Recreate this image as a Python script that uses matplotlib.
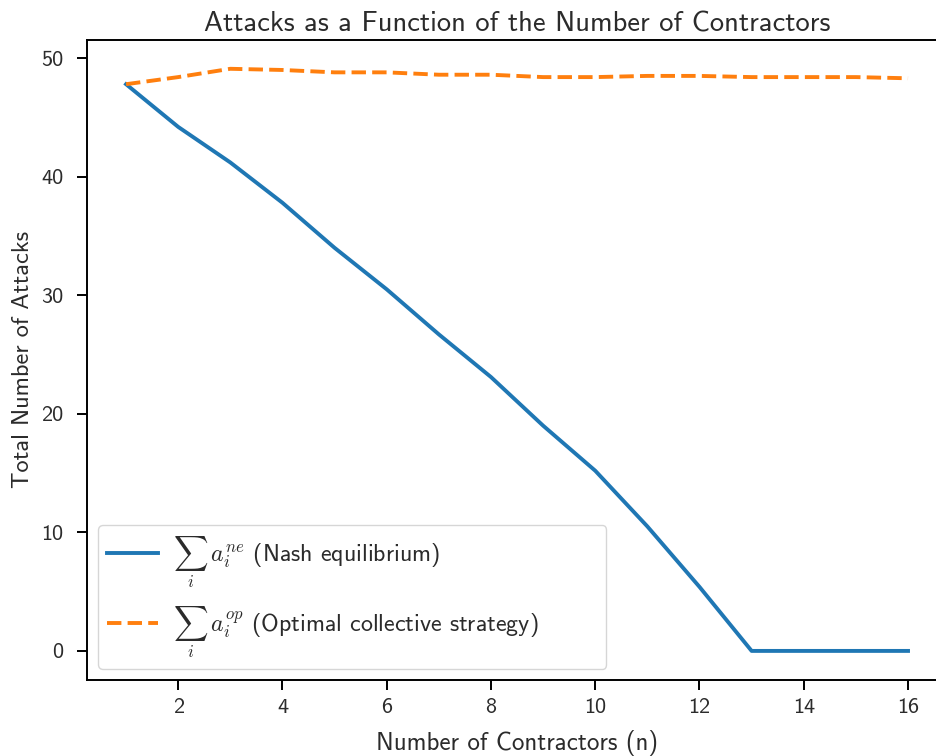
import matplotlib
matplotlib.use("Agg")
import matplotlib.pyplot as plt

n_contractors = list(range(1, 17))
nash_attacks = [47.8, 44.2, 41.2, 37.8, 34.0, 30.5, 26.7, 23.1, 19.0, 15.2, 10.5, 5.4, 0.0, 0.0, 0.0, 0.0]
optimal_attacks = [47.8, 48.4, 49.1, 49.0, 48.8, 48.8, 48.6, 48.6, 48.4, 48.4, 48.5, 48.5, 48.4, 48.4, 48.4, 48.3]

x_ticks = [2, 4, 6, 8, 10, 12, 14, 16]
y_ticks = [0, 10, 20, 30, 40, 50]

text_color = '#2b2b2b'
plt.rcParams.update({
    'font.family': 'cmss10',
    'mathtext.fontset': 'cm',
    'axes.unicode_minus': False,
    'axes.linewidth': 1.4,
    'xtick.major.width': 1.4,
    'ytick.major.width': 1.4,
    'xtick.major.size': 7,
    'ytick.major.size': 7,
    'text.color': text_color,
    'xtick.labelcolor': text_color,
    'ytick.labelcolor': text_color,
    'axes.labelcolor': text_color,
})

fig = plt.figure(figsize=(9.37, 7.56), dpi=100)
ax = fig.add_axes([0.0928, 0.1005, 0.918, 0.847])

ax.plot(n_contractors, nash_attacks, color='#1f77b4', linewidth=2.8,
        label=r'$\sum_i\; a_i^{ne}$ (Nash equilibrium)')
# trailing spaces widen the legend box like the original
ax.plot(n_contractors, optimal_attacks, color='#ff7f0e', linewidth=2.8, linestyle='--',
        label=r'$\sum_i\; a_i^{op}$ (Optimal collective strategy)' + ' ' * 8)

ax.set_xticks(x_ticks)
ax.set_yticks(y_ticks)
ax.tick_params(axis='both', labelsize=16)
ax.tick_params(axis='x', pad=6)
ax.tick_params(axis='y', pad=10)
ax.set_xlim(0.25, 16.75)

ax.set_title('Attacks as a Function of the Number of Contractors', fontsize=20.5)
ax.set_xlabel('Number of Contractors (n)', fontsize=18, labelpad=9)
ax.set_ylabel('Total Number of Attacks', fontsize=17.5, labelpad=5)

ax.legend(loc='lower left', fontsize=17.3, handlelength=2.1, handletextpad=0.65,
          labelspacing=0.6, borderaxespad=0.45)

plt.savefig('out.png', dpi=100)
